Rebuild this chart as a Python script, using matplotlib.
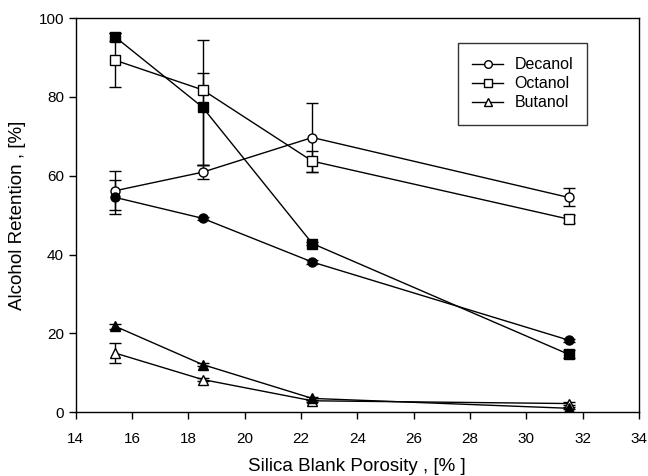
import matplotlib
matplotlib.use("Agg")
from matplotlib import pyplot as plt
from matplotlib.lines import Line2D

plt.rcParams["font.family"] = ["Liberation Sans", "DejaVu Sans"]

# porosity (%) of the silica blanks
porosity = [15.4, 18.5, 22.4, 31.5]

# open symbols (lower / upper error)
decanol_open = [56.2, 60.9, 69.7, 54.5]
decanol_open_lo = [5.0, 1.7, 8.8, 2.3]
decanol_open_hi = [5.0, 1.7, 8.8, 2.3]
octanol_open = [89.3, 81.8, 63.7, 49.0]
octanol_open_lo = [6.8, 19.2, 2.7, 1.0]
octanol_open_hi = [6.8, 12.7, 2.7, 1.0]
butanol_open = [15.0, 8.3, 2.9, 2.2]
butanol_open_lo = [2.6, 0.3, 0.3, 0.3]
butanol_open_hi = [2.6, 0.3, 0.3, 0.3]

# filled symbols
decanol_fill = [54.5, 49.2, 38.1, 18.3]
decanol_fill_lo = [4.3, 0.4, 0.4, 0.4]
decanol_fill_hi = [4.3, 0.4, 0.4, 0.4]
octanol_fill = [95.2, 77.4, 42.8, 14.7]
octanol_fill_lo = [1.0, 14.8, 0.3, 1.0]
octanol_fill_hi = [1.0, 8.7, 0.3, 1.0]
butanol_fill = [21.8, 12.1, 3.5, 1.0]
butanol_fill_lo = [0.6, 0.4, 0.3, 0.3]
butanol_fill_hi = [0.6, 0.4, 0.3, 0.3]

series = [
    (decanol_open, decanol_open_lo, decanol_open_hi, "o", "white"),
    (octanol_open, octanol_open_lo, octanol_open_hi, "s", "white"),
    (butanol_open, butanol_open_lo, butanol_open_hi, "^", "white"),
    (decanol_fill, decanol_fill_lo, decanol_fill_hi, "o", "black"),
    (octanol_fill, octanol_fill_lo, octanol_fill_hi, "s", "black"),
    (butanol_fill, butanol_fill_lo, butanol_fill_hi, "^", "black"),
]

fig = plt.figure(figsize=(6.48, 4.76), dpi=100)
ax = fig.add_axes([0.117, 0.134, 0.869, 0.828])

for y, lo, hi, m, fc in series:
    ax.errorbar(porosity, y, yerr=[lo, hi], color="black", lw=1.0,
                elinewidth=1.0, capsize=4.3, capthick=1.0, marker=m, ms=6.5,
                mfc=fc, mec="black", mew=1.0)

ax.set_xlim(14, 34)
ax.set_ylim(0, 100)
ax.set_xticks(range(14, 35, 2))
ax.set_yticks(range(0, 101, 20))
ax.tick_params(direction="out", length=5, width=1, labelsize=11)
ax.tick_params(axis="x", pad=9)
for s in ax.spines.values():
    s.set_linewidth(1.0)

ax.set_xlabel("Silica Blank Porosity , [% ]", fontsize=13.5, labelpad=9)
ax.set_ylabel("Alcohol Retention , [%]", fontsize=13.5, labelpad=9)

handles = [
    Line2D([], [], color="black", lw=1.0, marker="o", mfc="white", ms=5.5),
    Line2D([], [], color="black", lw=1.0, marker="s", mfc="white", ms=5.5),
    Line2D([], [], color="black", lw=1.0, marker="^", mfc="white", ms=5.5),
]
leg = ax.legend(handles, ["Decanol", "Octanol", "Butanol"],
                loc="upper left", bbox_to_anchor=(0.678, 0.937),
                borderaxespad=0, fontsize=11.5, frameon=True, fancybox=False,
                edgecolor="black", handlelength=1.95, handletextpad=0.7,
                labelspacing=0.25, borderpad=0.9)
leg.get_frame().set_linewidth(1.0)

fig.savefig("out.png", dpi=100)
